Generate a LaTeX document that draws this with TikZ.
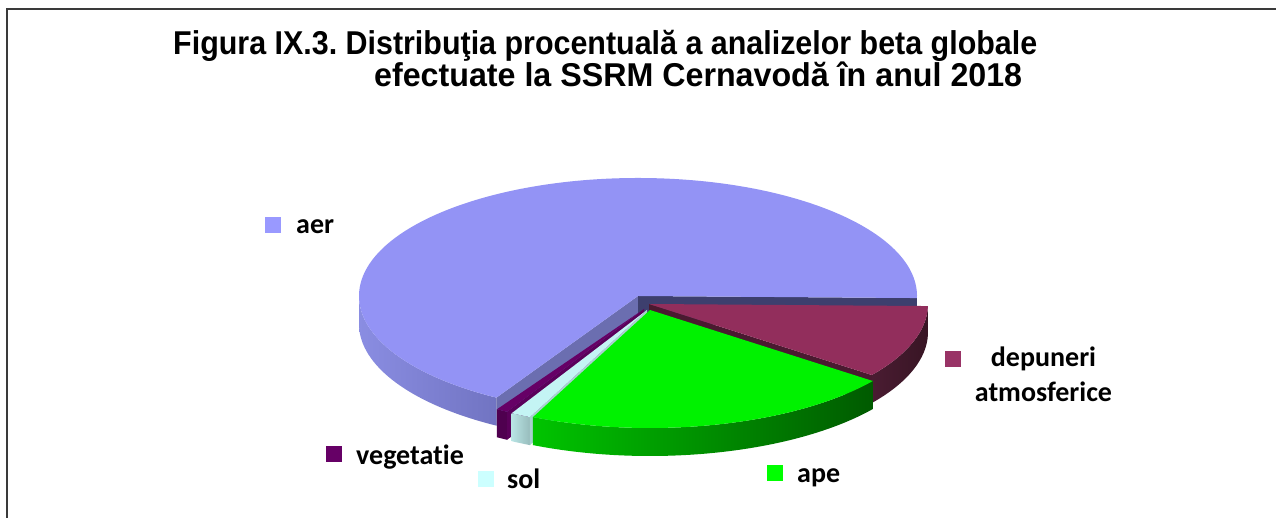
\documentclass[tikz,border=0pt]{standalone}
\usepackage{fontspec}
\usepackage{graphicx}
\usetikzlibrary{calc}
\frenchspacing
\newfontfamily\legfont{Carlito}[Ligatures=NoCommon]
\newfontfamily\titlefont{Liberation Sans}
\definecolor{frameC}{HTML}{3A3A3A}
\definecolor{aerTop}{HTML}{9393F5}
\definecolor{aerWallL}{HTML}{8A8DE2}
\definecolor{aerWallR}{HTML}{7174C2}
\definecolor{aerCutL}{HTML}{6B6EB0}
\definecolor{aerCutR}{HTML}{3D3F6E}
\definecolor{depTop}{HTML}{922E5C}
\definecolor{depWallL}{HTML}{4A1C32}
\definecolor{depWallR}{HTML}{381524}
\definecolor{depCut}{HTML}{4A1A30}
\definecolor{apeTop}{HTML}{00F200}
\definecolor{apeWallL}{HTML}{00C400}
\definecolor{apeWallR}{HTML}{005A00}
\definecolor{solTop}{HTML}{C4F4F4}
\definecolor{solWallL}{HTML}{B8E4E4}
\definecolor{solWallR}{HTML}{98BCBC}
\definecolor{solCut}{HTML}{A8D0D0}
\definecolor{vegTop}{HTML}{660066}
\definecolor{vegWall}{HTML}{4F004F}
\definecolor{vegCut}{HTML}{5A005A}
\definecolor{legAer}{HTML}{9999FF}
\definecolor{legDep}{HTML}{993366}
\definecolor{legVeg}{HTML}{660066}
\definecolor{legSol}{HTML}{CCFFFF}
\definecolor{legApe}{HTML}{00FF00}
\def\prx{279}
\def\pry{118}
\def\pth{28}
\newcommand\pieTop[4]{\path[#4] (#1) -- ($(#1)+({\prx*cos(#2)},{\pry*sin(#2)})$) arc[start angle=#2,end angle=#3,x radius=\prx,y radius=\pry] -- cycle;}
\newcommand\pieWall[4]{\path[#4] ($(#1)+({\prx*cos(#2)},{\pry*sin(#2)})$) arc[start angle=#2,end angle=#3,x radius=\prx,y radius=\pry] -- ++(0,-\pth) arc[start angle=#3,end angle=#2,x radius=\prx,y radius=\pry] -- cycle;}
\newcommand\pieCut[3]{\path[#3] (#1) -- ($(#1)+({\prx*cos(#2)},{\pry*sin(#2)})$) -- ++(0,-\pth) -- ($(#1)+(0,-\pth)$) -- cycle;}
\begin{document}
\begin{tikzpicture}[x=1pt,y=1pt,
  legmark/.style={rectangle,minimum size=16pt,inner sep=0pt,draw=none},
  legtext/.style={inner sep=0pt,anchor=base west,font=\legfont\bfseries\fontsize{28}{34}\selectfont},
  titletext/.style={inner sep=0pt,anchor=base west}]
\useasboundingbox (0,0) rectangle (1276,518);
\fill[white] (0,0) rectangle (1276,518);
% frame
\draw[frameC,line width=2pt] (7,0) -- (7,509) -- (1276,509);
% title
\node[titletext] (t1) at (173,463) {\resizebox{864pt}{\height}{\titlefont\bfseries\fontsize{33}{38}\selectfont Figura IX.3. Distribuţia procentuală a analizelor beta globale}};
\node[titletext] (t2) at (374,431) {\resizebox{648pt}{\height}{\titlefont\bfseries\fontsize{33}{38}\selectfont efectuate la SSRM Cernavodă în anul 2018}};
% pie centres
\coordinate (cA) at (638,222);
\coordinate (cV) at (644,209);
\coordinate (cS) at (647,208);
\coordinate (cD) at (649,214);
\coordinate (cG) at (650,208);
% aer
\pieWall{cA}{180}{239.5}{left color=aerWallL,right color=aerWallR}
\pieCut{cA}{239.5}{fill=aerCutL}
\pieCut{cA}{-1}{fill=aerCutR}
\pieTop{cA}{-1}{239.5}{fill=aerTop}
% vegetatie
\pieWall{cV}{238.2}{240.6}{fill=vegWall}
\pieCut{cV}{240.6}{fill=vegCut}
\pieTop{cV}{238.2}{240.6}{fill=vegTop}
% sol
\pieWall{cS}{241}{245.2}{left color=solWallL,right color=solWallR}
\pieCut{cS}{245.2}{fill=solCut}
\pieTop{cS}{241}{245.2}{fill=solTop}
% depuneri
\pieWall{cD}{323}{359}{left color=depWallL,right color=depWallR}
\pieCut{cD}{323}{fill=depCut}
\pieTop{cD}{323}{359}{fill=depTop}
% ape
\pieWall{cG}{245.2}{323}{left color=apeWallL,right color=apeWallR}
\pieTop{cG}{245.2}{323}{fill=apeTop}
% legend
\node[legmark,fill=legAer] (mAer) at (273,293) {};
\node[legtext] (lAer) at (296,284) {aer};
\node[legmark,fill=legDep] (mDep) at (953,159) {};
\node[legtext,anchor=base] (lDep1) at (1043.5,151) {depuneri};
\node[legtext,anchor=base] (lDep2) at (1043.5,116) {atmosferice};
\node[legmark,fill=legVeg] (mVeg) at (334,64) {};
\node[legtext] (lVeg) at (356,53) {vegetatie};
\node[legmark,fill=legSol] (mSol) at (486,39) {};
\node[legtext] (lSol) at (507,29) {sol};
\node[legmark,fill=legApe] (mApe) at (774.5,45) {};
\node[legtext] (lApe) at (797,35) {ape};
\end{tikzpicture}
\end{document}
